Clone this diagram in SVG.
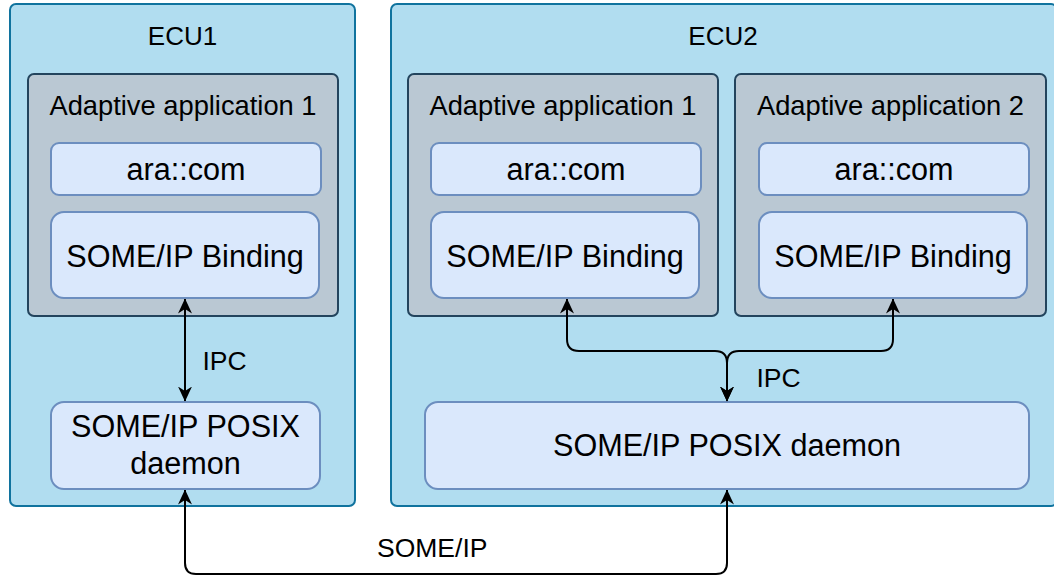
<svg xmlns="http://www.w3.org/2000/svg" width="1054" height="575" viewBox="0 0 1054 575">
  <style>
    .ecu { fill: #b1ddf0; stroke: #10739e; stroke-width: 2; }
    .app { fill: #bac8d3; stroke: #23445d; stroke-width: 2; }
    .blk { fill: #dae8fc; stroke: #6c8ebf; stroke-width: 2; }
    text { font-family: "Liberation Sans", Arial, sans-serif; fill: #000; text-anchor: middle; }
    .t-ecu { font-size: 26px; }
    .t-app { font-size: 27.3px; }
    .t-blk { font-size: 30.6px; }
    .t-lbl { font-size: 26.5px; text-anchor: start; }
    .edge { fill: none; stroke: #000; stroke-width: 2; }
  </style>
  <defs>
    <!-- classic filled arrowhead with a notched back -->
    <marker id="arrow" markerUnits="userSpaceOnUse" viewBox="0 0 15 15" markerWidth="15" markerHeight="15" refX="14.5" refY="7.5" orient="auto-start-reverse">
      <path d="M15,7.5 L0,0.5 L4.5,7.5 L0,14.5 Z" fill="#000"/>
    </marker>
  </defs>

  <rect width="1054" height="575" fill="#ffffff"/>

  <!-- ECU 1 -->
  <g id="ecu1">
    <rect class="ecu" x="10" y="4" width="345" height="502" rx="6"/>
    <text class="t-ecu" x="182.5" y="45">ECU1</text>
  </g>
  <g id="ecu1-app1">
    <rect class="app" x="28" y="74" width="310" height="242" rx="6"/>
    <text class="t-app" x="183" y="115">Adaptive application 1</text>
  </g>
  <g id="ecu1-aracom">
    <rect class="blk" x="51" y="143" width="270" height="52" rx="8"/>
    <text class="t-blk" x="186" y="180">ara::com</text>
  </g>
  <g id="ecu1-binding">
    <rect class="blk" x="51" y="212" width="268" height="86" rx="13"/>
    <text class="t-blk" x="185" y="266.5">SOME/IP Binding</text>
  </g>
  <g id="ecu1-daemon">
    <rect class="blk" x="51" y="402" width="269" height="87" rx="13"/>
    <text class="t-blk" x="185.5" y="436.5">SOME/IP POSIX</text>
    <text class="t-blk" x="185.5" y="474">daemon</text>
  </g>

  <!-- ECU 2 -->
  <g id="ecu2">
    <rect class="ecu" x="391" y="4" width="666" height="502" rx="6"/>
    <text class="t-ecu" x="723" y="45">ECU2</text>
  </g>
  <g id="ecu2-app1">
    <rect class="app" x="408" y="74" width="310" height="242" rx="6"/>
    <text class="t-app" x="563" y="115">Adaptive application 1</text>
  </g>
  <g id="ecu2-app1-aracom">
    <rect class="blk" x="431" y="143" width="270" height="52" rx="8"/>
    <text class="t-blk" x="566" y="180">ara::com</text>
  </g>
  <g id="ecu2-app1-binding">
    <rect class="blk" x="431" y="212" width="268" height="86" rx="13"/>
    <text class="t-blk" x="565" y="266.5">SOME/IP Binding</text>
  </g>
  <g id="ecu2-app2">
    <rect class="app" x="735" y="74" width="311" height="242" rx="6"/>
    <text class="t-app" x="890.5" y="115">Adaptive application 2</text>
  </g>
  <g id="ecu2-app2-aracom">
    <rect class="blk" x="759" y="143" width="270" height="52" rx="8"/>
    <text class="t-blk" x="894" y="180">ara::com</text>
  </g>
  <g id="ecu2-app2-binding">
    <rect class="blk" x="759" y="212" width="268" height="86" rx="13"/>
    <text class="t-blk" x="893" y="266.5">SOME/IP Binding</text>
  </g>
  <g id="ecu2-daemon">
    <rect class="blk" x="425" y="402" width="604" height="87" rx="13"/>
    <text class="t-blk" x="727" y="455.5">SOME/IP POSIX daemon</text>
  </g>

  <!-- connectors -->
  <g id="connectors">
    <!-- ECU1: binding <-> daemon -->
    <path class="edge" d="M185,299 L185,401" marker-start="url(#arrow)" marker-end="url(#arrow)"/>
    <text class="t-lbl" x="202.5" y="370">IPC</text>

    <!-- ECU2: both bindings <-> shared daemon -->
    <path class="edge" d="M567,299 L567,339 Q567,351 579,351 L715,351 Q727,351 727,363 L727,401" marker-start="url(#arrow)" marker-end="url(#arrow)"/>
    <path class="edge" d="M893,299 L893,339 Q893,351 881,351 L739,351 Q727,351 727,363 L727,401" marker-start="url(#arrow)" marker-end="url(#arrow)"/>
    <text class="t-lbl" x="756.5" y="387">IPC</text>

    <!-- daemon <-> daemon across the network -->
    <path class="edge" d="M185,490 L185,563 Q185,574 196,574 L716,574 Q727,574 727,563 L727,490" marker-start="url(#arrow)" marker-end="url(#arrow)"/>
    <text class="t-lbl" x="377" y="556.5">SOME/IP</text>
  </g>
</svg>
